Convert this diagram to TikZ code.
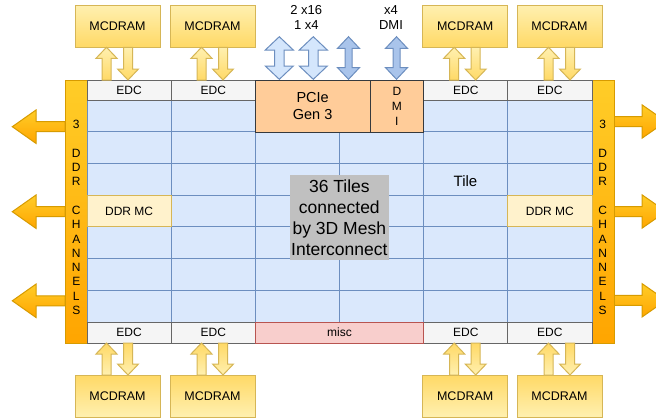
\documentclass[tikz,border=0pt]{standalone}
\usepackage{fontspec}
\setmainfont{Liberation Sans}
\definecolor{gridfill}{HTML}{DAE8FC}
\definecolor{gridline}{HTML}{6C8EBF}
\definecolor{edcfill}{HTML}{F5F5F5}
\definecolor{edcline}{HTML}{666666}
\definecolor{pciefill}{HTML}{FFCC99}
\definecolor{pcieline}{HTML}{36393D}
\definecolor{miscfill}{HTML}{F8CECC}
\definecolor{miscline}{HTML}{B85450}
\definecolor{ddrfill}{HTML}{FFF2CC}
\definecolor{ddrline}{HTML}{D6B656}
\definecolor{grayfill}{HTML}{C0C0C0}
\definecolor{mctop}{HTML}{FFF0B0}
\definecolor{mcbot}{HTML}{FFD966}
\definecolor{ortop}{HTML}{FFCD28}
\definecolor{orbot}{HTML}{FFA500}
\definecolor{orline}{HTML}{D79B00}
\definecolor{lbluefill}{HTML}{D4E6FC}
\definecolor{dbluefill}{HTML}{A9C4EB}
% block arrow shapes
\newcommand\arrUp[7]{\draw[#1] (#2-#5,#3) -- (#2-#5,#4+#7) -- (#2-#6,#4+#7) -- (#2,#4) -- (#2+#6,#4+#7) -- (#2+#5,#4+#7) -- (#2+#5,#3) -- cycle;}
\newcommand\arrDown[7]{\draw[#1] (#2-#5,#3) -- (#2-#5,#4-#7) -- (#2-#6,#4-#7) -- (#2,#4) -- (#2+#6,#4-#7) -- (#2+#5,#4-#7) -- (#2+#5,#3) -- cycle;}
\newcommand\arrLeft[7]{\draw[#1] (#3,#2-#5) -- (#4+#7,#2-#5) -- (#4+#7,#2-#6) -- (#4,#2) -- (#4+#7,#2+#6) -- (#4+#7,#2+#5) -- (#3,#2+#5) -- cycle;}
\newcommand\arrRight[7]{\draw[#1] (#3,#2-#5) -- (#4-#7,#2-#5) -- (#4-#7,#2-#6) -- (#4,#2) -- (#4-#7,#2+#6) -- (#4-#7,#2+#5) -- (#3,#2+#5) -- cycle;}
\newcommand\arrUD[7]{\draw[#1] (#2,#3) -- (#2+#6,#3+#7) -- (#2+#5,#3+#7) -- (#2+#5,#4-#7) -- (#2+#6,#4-#7) -- (#2,#4) -- (#2-#6,#4-#7) -- (#2-#5,#4-#7) -- (#2-#5,#3+#7) -- (#2-#6,#3+#7) -- cycle;}
\tikzset{
  cell/.style={draw, line width=1pt, inner sep=0pt, outer sep=0pt, anchor=north west,
    align=center, font=\fontsize{12}{14}\selectfont},
  edc/.style={cell, fill=edcfill, draw=edcline, minimum width=84.2pt},
  mesh/.style={cell, fill=gridfill, draw=gridline},
  gridln/.style={draw=gridline, line width=1pt},
  pcie/.style={cell, fill=pciefill, draw=pcieline},
  misc/.style={cell, fill=miscfill, draw=miscline},
  ddrmc/.style={cell, fill=ddrfill, draw=ddrline, minimum width=84.2pt, minimum height=31.8pt},
  mcdram/.style={cell, top color=mctop, bottom color=mcbot, draw=ddrline,
    minimum width=85pt, minimum height=42pt, font=\fontsize{12.5}{15}\selectfont},
  mcdramb/.style={mcdram, top color=mcbot, bottom color=mctop},
  bar/.style={cell, top color=ortop, bottom color=orbot, draw=orline, minimum width=22pt, minimum height=263pt},
  bartext/.style={align=center, inner sep=0pt, font=\fontsize{12}{14.3}\selectfont},
  label/.style={align=center, inner sep=0pt, font=\fontsize{13}{15.5}\selectfont},
  mcarr/.style={top color=mctop, bottom color=mcbot, draw=ddrline, line width=1pt, line join=miter},
  mcarrb/.style={top color=mcbot, bottom color=mctop, draw=ddrline, line width=1pt, line join=miter},
  lbarr/.style={fill=lbluefill, draw=gridline, line width=1pt},
  dbarr/.style={fill=dbluefill, draw=gridline, line width=1pt},
  orarr/.style={top color=ortop, bottom color=orbot, draw=orline, line width=1pt},
}
\begin{document}
\begin{tikzpicture}[x=1pt, y=-1pt]
\useasboundingbox (0,0) rectangle (656,418);
\clip (0,0) rectangle (656,418);
\fill[white] (0,0) rectangle (656,418);

% DDR channel arrows
\arrLeft{orarr}{126.7}{65}{12.3}{5}{16.7}{23.7}
\arrLeft{orarr}{211.7}{65}{12.3}{5}{16.7}{23.7}
\arrLeft{orarr}{300.8}{65}{12.3}{5}{16.7}{23.7}
\arrRight{orarr}{121.5}{613}{666}{5}{16.7}{24}
\arrRight{orarr}{211.5}{613}{666}{5}{16.7}{24}
\arrRight{orarr}{300.3}{613}{666}{5}{16.7}{24}

% channel bars
\node[bar] (barL) at (65,80) {};
\node[bar] (barR) at (592,80) {};
\node[bartext] (barLt) at (76.3,217.5) {3\\~\\D\\D\\R\\~\\C\\H\\A\\N\\N\\E\\L\\S};
\node[bartext] (barRt) at (602.7,217.5) {3\\~\\D\\D\\R\\~\\C\\H\\A\\N\\N\\E\\L\\S};

% mesh of tiles
\node[mesh, minimum width=505pt, minimum height=222pt] (meshbox) at (87,100) {};
\foreach \x in {171.2,255.3,339.5,423.7,507.8}
  \draw[gridln] (\x,100) -- (\x,322);
\foreach \y in {131.7,163.4,195.1,226.9,258.6,290.3}
  \draw[gridln] (87,\y) -- (592,\y);

% EDC rows
\node[edc, minimum height=20pt] (edcT1) at (87,80) {EDC};
\node[edc, minimum height=20pt] (edcT2) at (171.2,80) {EDC};
\node[edc, minimum height=20pt] (edcT3) at (423.7,80) {EDC};
\node[edc, minimum height=20pt] (edcT4) at (507.8,80) {EDC};
\node[edc, minimum height=21pt] (edcB1) at (87,322) {EDC};
\node[edc, minimum height=21pt] (edcB2) at (171.2,322) {EDC};
\node[edc, minimum height=21pt] (edcB3) at (423.7,322) {EDC};
\node[edc, minimum height=21pt] (edcB4) at (507.8,322) {EDC};

% PCIe, DMI, misc
\node[pcie, minimum width=114.7pt, minimum height=52pt, font=\fontsize{14.5}{16.7}\selectfont] (pcie) at (255.3,80) {PCIe\\Gen 3};
\node[pcie, minimum width=53.7pt, minimum height=52pt, font=\fontsize{12}{15}\selectfont] (dmi) at (370,80) {D\\M\\I};
\node[misc, minimum width=168.4pt, minimum height=21pt] (misc) at (255.3,322) {misc};

% DDR MC
\node[ddrmc] (ddrL) at (87,195.1) {DDR MC};
\node[ddrmc] (ddrR) at (507.8,195.1) {DDR MC};

% tile label and mesh label
\node[inner sep=0pt, font=\fontsize{15}{18}\selectfont] (tile) at (465.5,181) {Tile};
\node[fill=grayfill, anchor=north west, inner sep=0pt, minimum width=99.7pt, minimum height=84.3pt,
      align=center, font=\fontsize{17.5}{21}\selectfont] (meshlbl) at (289.3,175)
      {36 Tiles\\connected\\by 3D Mesh\\Interconnect};

% MCDRAM boxes
\node[mcdram] (mcT1) at (75,5) {MCDRAM};
\node[mcdram] (mcT2) at (170,5) {MCDRAM};
\node[mcdram] (mcT3) at (422.7,5) {MCDRAM};
\node[mcdram] (mcT4) at (517,5) {MCDRAM};
\node[mcdramb] (mcB1) at (75,375) {MCDRAM};
\node[mcdramb] (mcB2) at (170,375) {MCDRAM};
\node[mcdramb] (mcB3) at (422.7,375) {MCDRAM};
\node[mcdramb] (mcB4) at (517,375) {MCDRAM};

% MCDRAM <-> EDC arrows
\foreach \c in {117.5,212.5,465.2,559.5}{
  \arrUp{mcarr}{\c-11}{80}{47.3}{4.5}{10.5}{11}
  \arrDown{mcarr}{\c+10.5}{47.3}{80}{4.5}{10.5}{11}
  \arrUp{mcarrb}{\c-11}{375}{343}{4.5}{10.5}{11}
  \arrDown{mcarrb}{\c+10.5}{343}{375}{4.5}{10.5}{11}
}

% PCIe / DMI arrows
\arrUD{lbarr}{279.3}{36.7}{79.3}{4.7}{14}{13.3}
\arrUD{lbarr}{313.3}{36.7}{79.3}{4.7}{14}{13.3}
\arrUD{dbarr}{348.5}{36.7}{79.3}{3.5}{11}{11.7}
\arrUD{dbarr}{396.5}{36.7}{79.3}{3.5}{11}{11.7}

% top labels
\node[label] (pcielbl) at (306.3,17.3) {2 x16\\1 x4};
\node[label] (dmilbl) at (391,17.3) {x4\\DMI};
\end{tikzpicture}
\end{document}
